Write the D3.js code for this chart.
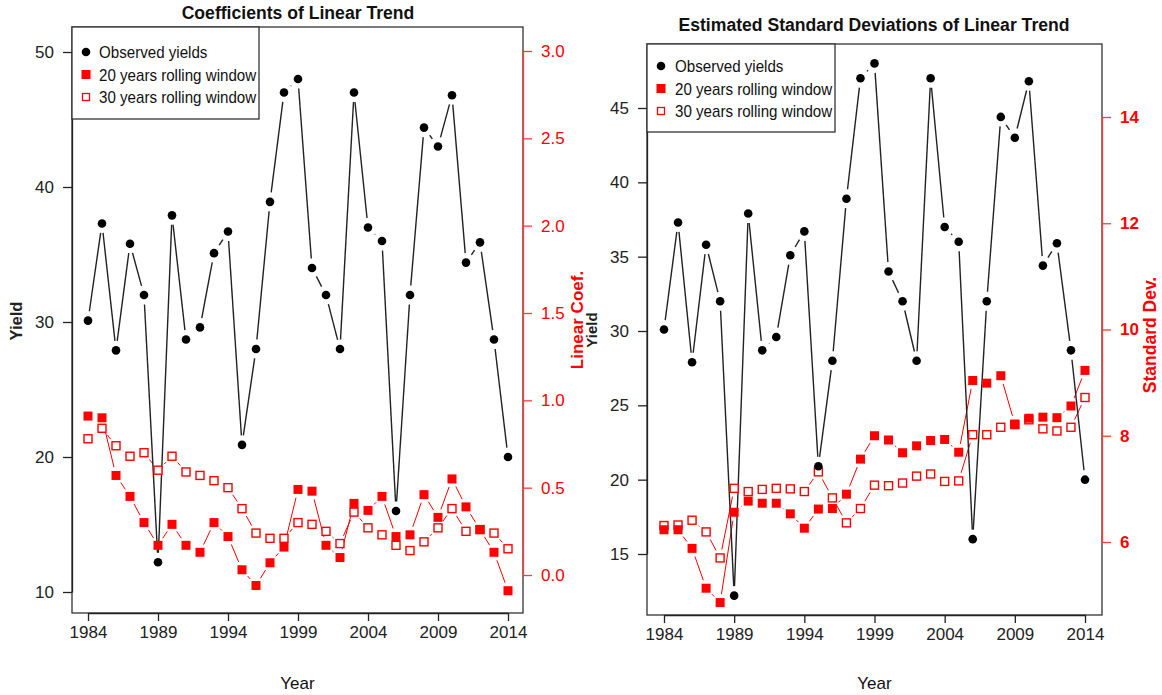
<!DOCTYPE html>
<html>
<head>
<meta charset="utf-8">
<script src="https://cdn.jsdelivr.net/npm/d3@7"></script>
<style>
  body { margin: 0; background: #fff; }
  svg { display: block; }
  text { font-family: "Liberation Sans", Arial, sans-serif; }
</style>
</head>
<body>
<script>
// data
var years = [1984,1985,1986,1987,1988,1989,1990,1991,1992,1993,1994,1995,1996,1997,1998,1999,
             2000,2001,2002,2003,2004,2005,2006,2007,2008,2009,2010,2011,2012,2013,2014];
var observedYields = [30.1,37.3,27.9,35.8,32.0,12.2,37.9,28.7,29.6,35.1,36.7,20.9,28.0,38.9,47.0,48.0,
                      34.0,32.0,28.0,47.0,37.0,36.0,16.0,32.0,44.4,43.0,46.8,34.4,35.9,28.7,20.0];
var coef20 = [0.91,0.90,0.57,0.45,0.30,0.17,0.29,0.17,0.13,0.30,0.22,0.03,-0.06,0.07,0.16,0.49,
              0.48,0.17,0.10,0.41,0.37,0.45,0.22,0.23,0.46,0.33,0.55,0.39,0.26,0.13,-0.09];
var coef30 = [0.78,0.84,0.74,0.68,0.70,0.60,0.68,0.59,0.57,0.54,0.50,0.38,0.24,0.21,0.21,0.30,
              0.29,0.25,0.18,0.36,0.27,0.23,0.17,0.14,0.19,0.27,0.38,0.25,0.26,0.24,0.15];
var sd20 = [6.23,6.23,5.88,5.13,4.86,6.56,6.77,6.73,6.73,6.53,6.26,6.62,6.63,6.90,7.56,8.00,
            7.92,7.68,7.81,7.91,7.93,7.69,9.04,8.99,9.13,8.22,8.33,8.35,8.34,8.56,9.23];
var sd30 = [6.31,6.32,6.41,6.19,5.70,7.01,6.95,6.99,7.01,7.00,6.95,7.32,6.83,6.36,6.63,7.07,
            7.06,7.11,7.24,7.28,7.14,7.15,8.02,8.02,8.16,8.21,8.30,8.13,8.09,8.16,8.72];
var yearTicks = [1984,1989,1994,1999,2004,2009,2014];
var yieldTicksA = [10,20,30,40,50];
var yieldTicksB = [15,20,25,30,35,40,45];
var coefTicks = [0,0.5,1,1.5,2,2.5,3];
var sdTicks = [6,8,10,12,14];
var legendLabels = ["Observed yields","20 years rolling window","30 years rolling window"];

var svg = d3.select("body").append("svg").attr("width",1162).attr("height",695);
var RED = "#ff0000", AXRED = "#ff3b3b";

// line with gaps round the points, like R type="b"
function gappedSegments(g, pts, gap, color, width){
  for (var i = 0; i < pts.length - 1; i++){
    var a = pts[i], b = pts[i+1];
    var dx = b[0]-a[0], dy = b[1]-a[1], len = Math.sqrt(dx*dx+dy*dy);
    if (len <= 2*gap) continue;
    var ux = dx/len, uy = dy/len;
    g.append("line")
      .attr("x1",a[0]+ux*gap).attr("y1",a[1]+uy*gap)
      .attr("x2",b[0]-ux*gap).attr("y2",b[1]-uy*gap)
      .attr("stroke",color).attr("stroke-width",width);
  }
}

function styleAxis(g, color, size){
  g.selectAll("path.domain").attr("stroke",color).attr("stroke-width",1.3);
  g.selectAll(".tick line").attr("stroke",color).attr("stroke-width",1.3);
  g.selectAll(".tick text").attr("fill",color).attr("font-size",size)
    .attr("font-family","'Liberation Sans',Arial,sans-serif");
}

function drawPanel(p){
  var x = d3.scaleLinear().domain([1984,2014]).range(p.xRange),
      y = d3.scaleLinear().domain(p.yDomain).range(p.yRange),
      y2 = d3.scaleLinear().domain(p.y2Domain).range(p.y2Range),
      g = svg.append("g");

  // box
  g.append("rect").attr("x",p.box[0]).attr("y",p.box[1])
    .attr("width",p.box[2]-p.box[0]).attr("height",p.box[3]-p.box[1])
    .attr("fill","none").attr("stroke","#333").attr("stroke-width",1.3);

  // axes
  var xAxis = g.append("g").attr("transform","translate(0,"+p.box[3]+")")
    .call(d3.axisBottom(x).tickValues(yearTicks).tickFormat(d3.format("d")).tickSize(8).tickSizeOuter(0).tickPadding(5));
  styleAxis(xAxis,"#222",17);
  var yAxis = g.append("g").attr("transform","translate("+p.box[0]+",0)")
    .call(d3.axisLeft(y).tickValues(p.yTicks).tickSize(9).tickSizeOuter(0).tickPadding(9));
  styleAxis(yAxis,"#222",17);
  var y2Axis = g.append("g").attr("transform","translate("+p.box[2]+",0)")
    .call(d3.axisRight(y2).tickValues(p.y2Ticks).tickFormat(p.y2Format).tickSize(9).tickSizeOuter(0).tickPadding(9));
  styleAxis(y2Axis,AXRED,17);
  y2Axis.selectAll(".tick text").attr("fill",RED).attr("font-weight",p.y2Bold ? "bold" : "normal");

  // series
  var obs = years.map(function(d,i){ return [x(d), y(observedYields[i])]; }),
      s20 = years.map(function(d,i){ return [x(d), y2(p.s20[i])]; }),
      s30 = years.map(function(d,i){ return [x(d), y2(p.s30[i])]; });

  gappedSegments(g, s30, 8.5, RED, 1);
  gappedSegments(g, s20, 8.5, RED, 1);
  gappedSegments(g, obs, 9.5, "#222", 1.4);

  g.selectAll("rect.s30").data(s30).enter().append("rect").attr("class","s30")
    .attr("x",function(d){ return d[0]-4; }).attr("y",function(d){ return d[1]-4; })
    .attr("width",8).attr("height",8).attr("fill","#fff").attr("stroke",RED).attr("stroke-width",1.4);
  g.selectAll("rect.s20").data(s20).enter().append("rect").attr("class","s20")
    .attr("x",function(d){ return d[0]-4.5; }).attr("y",function(d){ return d[1]-4.5; })
    .attr("width",9).attr("height",9).attr("fill",RED);
  g.selectAll("circle.obs").data(obs).enter().append("circle").attr("class","obs")
    .attr("cx",function(d){ return d[0]; }).attr("cy",function(d){ return d[1]; })
    .attr("r",4.3).attr("fill","#000");

  // legend
  var L = p.legend;
  g.append("rect").attr("x",p.box[0]).attr("y",p.box[1]).attr("width",L.w).attr("height",L.h)
    .attr("fill","#fff").attr("stroke","#333").attr("stroke-width",1.3);
  legendLabels.forEach(function(t,i){
    var ly = L.y0 + i*L.dy;
    if (i === 0) g.append("circle").attr("cx",L.sx).attr("cy",ly).attr("r",4.3).attr("fill","#000");
    if (i === 1) g.append("rect").attr("x",L.sx-4.5).attr("y",ly-4.5).attr("width",9).attr("height",9).attr("fill",RED);
    if (i === 2) g.append("rect").attr("x",L.sx-3.5).attr("y",ly-3.5).attr("width",7).attr("height",7)
                   .attr("fill","#fff").attr("stroke",RED).attr("stroke-width",1.3);
    g.append("text").attr("transform","translate("+L.tx+","+(ly+6)+") scale(0.89,1)")
      .attr("font-size",17).attr("fill","#111").text(t);
  });

  // titles
  g.append("text").attr("x",p.title[0]).attr("y",p.title[1]).attr("text-anchor","middle")
    .attr("font-size",17.6).attr("font-weight","bold").attr("fill","#111").text(p.titleText);
  g.append("text").attr("x",(p.box[0]+p.box[2])/2).attr("y",689).attr("text-anchor","middle")
    .attr("font-size",17).attr("fill","#111").text("Year");
  g.append("text").attr("transform","translate("+p.yLab[0]+","+p.yLab[1]+") rotate(-90)")
    .attr("text-anchor","middle").attr("font-size",p.yLab[2]).attr("font-weight","bold")
    .attr("fill","#222").text("Yield");
  g.append("text").attr("transform","translate("+p.y2Lab[0]+","+p.y2Lab[1]+") rotate(-90)")
    .attr("text-anchor","middle").attr("font-size",p.y2Lab[2]).attr("font-weight","bold")
    .attr("fill",RED).text(p.y2Text);
}

drawPanel({
  box:[72,27,523,613], xRange:[88,508],
  yDomain:[10,50], yRange:[592,52], yTicks:yieldTicksA,
  y2Domain:[0,3], y2Range:[575,51], y2Ticks:coefTicks, y2Format:d3.format(".1f"), y2Bold:false,
  s20:coef20, s30:coef30,
  legend:{w:187, h:92, sx:86, tx:99, y0:52, dy:22.5},
  title:[298,19], titleText:"Coefficients of Linear Trend",
  yLab:[22,321,16.5], y2Lab:[583,320,17], y2Text:"Linear Coef."
});
drawPanel({
  box:[647,44,1102,615], xRange:[664,1085],
  yDomain:[15,45], yRange:[554,108], yTicks:yieldTicksB,
  y2Domain:[6,14], y2Range:[542,117], y2Ticks:sdTicks, y2Format:d3.format("d"), y2Bold:true,
  s20:sd20, s30:sd30,
  legend:{w:188, h:88, sx:661, tx:675, y0:66, dy:22.5},
  title:[874,31], titleText:"Estimated Standard Deviations of Linear Trend",
  yLab:[597,330,15], y2Lab:[1156,335,17.5], y2Text:"Standard Dev."
});
</script>
</body>
</html>
